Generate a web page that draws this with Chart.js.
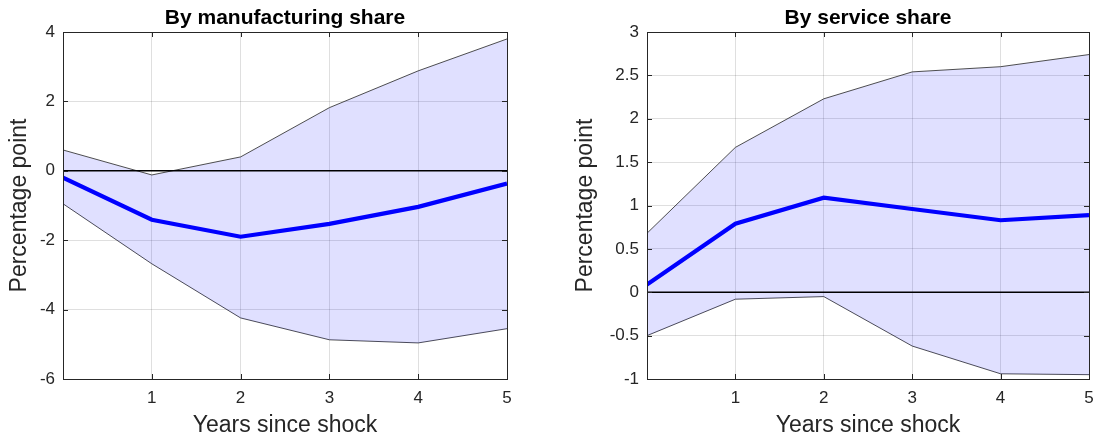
<!DOCTYPE html>
<html>
<head>
<meta charset="utf-8">
<script src="https://cdn.jsdelivr.net/npm/chart.js@4/dist/chart.umd.min.js"></script>
<style>
  html, body { margin: 0; padding: 0; background: #fff; }
  .wrap { position: absolute; top: 0; width: 548px; height: 440px; }
</style>
</head>
<body>
<div class="wrap" style="left:0"><canvas id="c0" width="548" height="440"></canvas></div>
<div class="wrap" style="left:548px"><canvas id="c1" width="548" height="440"></canvas></div>
<script>
// data
var years = [0, 1, 2, 3, 4, 5];

var mfgUpper = [0.6, -0.12, 0.4, 1.82, 2.88, 3.8];
var mfgLower = [-0.95, -2.68, -4.24, -4.87, -4.96, -4.55];
var mfgMean  = [-0.2, -1.41, -1.9, -1.53, -1.04, -0.37];

var svcUpper = [0.68, 1.67, 2.23, 2.54, 2.6, 2.74];
var svcLower = [-0.5, -0.08, -0.05, -0.62, -0.94, -0.95];
var svcMean  = [0.09, 0.79, 1.09, 0.96, 0.83, 0.89];

var FONT = "'Liberation Sans', Arial, Helvetica, sans-serif";
var INK = '#262626';

function pts(ys) {
  return years.map(function (x, i) { return { x: x, y: ys[i] }; });
}

// box round the plot and inward tick marks, as matlab does it
var boxPlugin = {
  id: 'box',
  afterDraw: function (chart) {
    var ctx = chart.ctx, a = chart.chartArea;
    var xs = chart.scales.x, ys = chart.scales.y;
    var len = 5;
    ctx.save();
    ctx.strokeStyle = INK;
    ctx.lineWidth = 1;
    ctx.beginPath();
    xs.ticks.forEach(function (t) {
      var px = Math.round(xs.getPixelForValue(t.value)) + 0.5;
      ctx.moveTo(px, a.bottom); ctx.lineTo(px, a.bottom - len);
      ctx.moveTo(px, a.top); ctx.lineTo(px, a.top + len);
    });
    ys.ticks.forEach(function (t) {
      var py = Math.round(ys.getPixelForValue(t.value)) + 0.5;
      ctx.moveTo(a.left, py); ctx.lineTo(a.left + len, py);
      ctx.moveTo(a.right, py); ctx.lineTo(a.right - len, py);
    });
    ctx.stroke();
    ctx.strokeRect(Math.round(a.left) + 0.5, Math.round(a.top) + 0.5,
                   Math.round(a.right - a.left), Math.round(a.bottom - a.top));
    ctx.restore();
  }
};

function makeChart(id, cfg) {
  var ctx = document.getElementById(id).getContext('2d');
  return new Chart(ctx, {
    type: 'line',
    data: {
      datasets: [
        { data: pts(cfg.upper), borderColor: '#222', borderWidth: 0.8, pointRadius: 0,
          fill: '+1', backgroundColor: 'rgba(0,0,255,0.12)', order: 3 },
        { data: pts(cfg.lower), borderColor: '#222', borderWidth: 0.8, pointRadius: 0,
          fill: false, order: 3 },
        { data: pts([0, 0, 0, 0, 0, 0]), borderColor: '#000', borderWidth: 1.6, pointRadius: 0,
          fill: false, order: 2 },
        { data: pts(cfg.mean), borderColor: '#0000ff', borderWidth: 4.2, pointRadius: 0,
          fill: false, order: 1 }
      ]
    },
    options: {
      responsive: false,
      animation: false,
      events: [],
      layout: { padding: { left: 0, right: cfg.padRight, top: 0, bottom: 0 } },
      plugins: {
        legend: { display: false },
        tooltip: { enabled: false },
        title: {
          display: true, text: cfg.title, fullSize: false, color: '#000',
          font: { family: FONT, size: 21, weight: 'bold' },
          padding: { top: 5.4, bottom: 1.4 }
        }
      },
      scales: {
        x: {
          type: 'linear', min: 0, max: 5,
          afterFit: function (s) { s.height = 61; s.paddingRight = 0; s.paddingLeft = 0; },
          border: { display: false },
          grid: { color: 'rgba(38,38,38,0.15)', drawTicks: false },
          ticks: { stepSize: 1, color: INK, padding: 9, maxRotation: 0,
                   font: { family: FONT, size: 17 },
                   callback: function (v) { return v === 0 ? '' : String(v); } },
          title: { display: true, text: 'Years since shock', color: INK,
                   font: { family: FONT, size: 23 }, padding: { top: 0, bottom: 0.5 } }
        },
        y: {
          min: cfg.yMin, max: cfg.yMax,
          afterFit: function (s) { s.width = cfg.yWidth; s.paddingTop = 0; s.paddingBottom = 0; },
          border: { display: false },
          grid: { color: 'rgba(38,38,38,0.15)', drawTicks: false },
          ticks: { stepSize: cfg.step, color: INK, padding: 8,
                   font: { family: FONT, size: 17 },
                   callback: function (v) { return String(v); } },
          title: { display: true, text: 'Percentage point', color: INK,
                   font: { family: FONT, size: 23 }, padding: { top: cfg.titlePad, bottom: 0 } }
        }
      }
    },
    plugins: [boxPlugin]
  });
}

makeChart('c0', { title: 'By manufacturing share', upper: mfgUpper, lower: mfgLower, mean: mfgMean,
                  yMin: -6, yMax: 4, step: 2, yWidth: 63, padRight: 41, titlePad: 6 });
makeChart('c1', { title: 'By service share', upper: svcUpper, lower: svcLower, mean: svcMean,
                  yMin: -1, yMax: 3, step: 0.5, yWidth: 99, padRight: 7, titlePad: 24 });
</script>
</body>
</html>
